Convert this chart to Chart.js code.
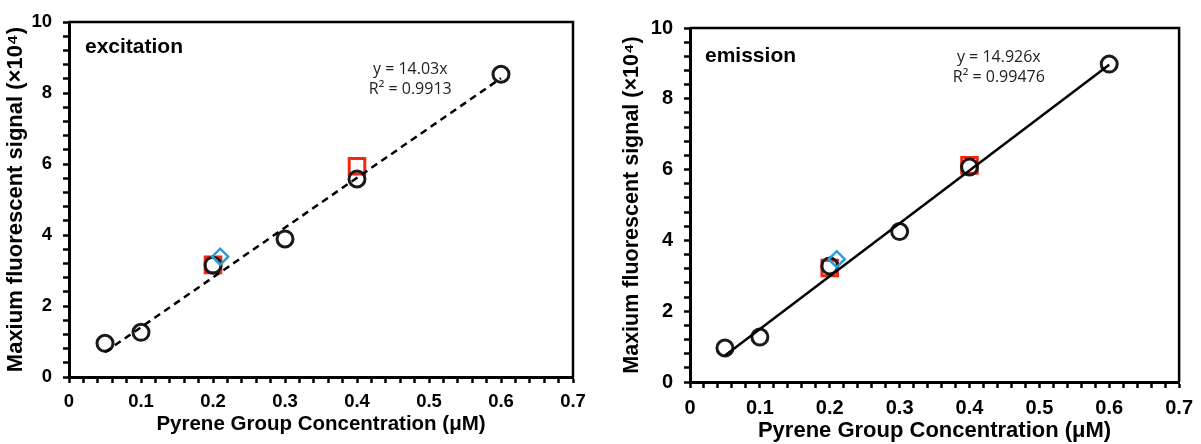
<!DOCTYPE html>
<html>
<head>
<meta charset="utf-8">
<script src="https://cdn.jsdelivr.net/npm/chart.js@4.4.1/dist/chart.umd.min.js"></script>
<style>
  html, body { margin: 0; padding: 0; background: #fff; }
  #wrap { width: 1201px; height: 444px; position: relative; }
  #exc { position: absolute; left: 0; top: 0; }
  #emi { position: absolute; left: 600px; top: 0; }
</style>
</head>
<body>
<div id="wrap">
  <canvas id="exc" width="600" height="444"></canvas>
  <canvas id="emi" width="601" height="444"></canvas>
</div>
<script>
// excitation panel
var excCircleX = [0.05, 0.1, 0.2, 0.3, 0.4, 0.6];
var excCircleY = [0.95, 1.26, 3.15, 3.89, 5.58, 8.53];
var excSquareX = [0.2, 0.4];
var excSquareY = [3.16, 5.94];
var excDiamondX = [0.21];
var excDiamondY = [3.39];
var excFitX = [0.05, 0.6];
var excFitY = [0.70, 8.42];
var excEq = ["y = 14.03x", "R² = 0.9913"];

// emission panel
var emiCircleX = [0.05, 0.1, 0.2, 0.3, 0.4, 0.6];
var emiCircleY = [0.96, 1.27, 3.28, 4.25, 6.07, 8.98];
var emiSquareX = [0.2, 0.4];
var emiSquareY = [3.22, 6.12];
var emiDiamondX = [0.21];
var emiDiamondY = [3.47];
var emiFitX = [0.05, 0.6];
var emiFitY = [0.75, 8.96];
var emiEq = ["y = 14.926x", "R² = 0.99476"];

var xTitle = "Pyrene Group Concentration (μM)";
var yTitle = "Maxium fluorescent signal (×10⁴)";

function pts(xs, ys) {
  var out = [];
  for (var i = 0; i < xs.length; i++) out.push({x: xs[i], y: ys[i]});
  return out;
}

function isMult(v, step) {
  var r = v / step;
  return Math.abs(r - Math.round(r)) < 1e-6;
}

// frame on top/right + panel texts
var framePlugin = {
  id: "frame",
  afterDatasetsDraw: function(chart, args, opts) {
    var ctx = chart.ctx, a = chart.chartArea;
    ctx.save();
    ctx.strokeStyle = "#000";
    ctx.lineWidth = 2.5;
    ctx.beginPath();
    ctx.moveTo(a.left, a.top);
    ctx.lineTo(a.right, a.top);
    ctx.lineTo(a.right, a.bottom);
    ctx.stroke();

    ctx.fillStyle = "#000";
    ctx.font = "bold " + opts.labelSize + "px 'Liberation Sans', Arial, sans-serif";
    ctx.textAlign = "left";
    ctx.textBaseline = "alphabetic";
    ctx.fillText(opts.label, a.left + opts.labelDx, a.top + opts.labelDy);

    ctx.fillStyle = "#222";
    ctx.font = "16px 'Open Sans', sans-serif";
    ctx.textAlign = "center";
    ctx.textBaseline = "middle";
    var xs = chart.scales.x, ys = chart.scales.y;
    ctx.fillText(opts.eq[0], xs.getPixelForValue(opts.eqX), ys.getPixelForValue(opts.eqY));
    ctx.fillText(opts.eq[1], xs.getPixelForValue(opts.eqX), ys.getPixelForValue(opts.eqY) + 20);
    ctx.restore();
  }
};

function drawPanel(eleId, d) {
  var ctx = document.getElementById(eleId).getContext("2d");
  var configs = {
    type: "scatter",
    data: {
      datasets: [
        {
          type: "line",
          data: pts(d.fitX, d.fitY),
          borderColor: "#000",
          borderWidth: 2.5,
          borderDash: d.dash,
          pointRadius: 0,
          fill: false
        },
        {
          data: pts(d.diaX, d.diaY),
          pointStyle: "rectRot",
          pointRadius: 8,
          borderColor: "#2f9ad6",
          borderWidth: 2.5,
          backgroundColor: "rgba(0,0,0,0)"
        },
        {
          data: pts(d.cirX, d.cirY),
          pointStyle: "circle",
          pointRadius: 8,
          borderColor: "#1a1a1a",
          borderWidth: 3,
          backgroundColor: "rgba(0,0,0,0)"
        },
        {
          data: pts(d.sqX, d.sqY),
          pointStyle: "rect",
          pointRadius: 11,
          borderColor: "#f0280f",
          borderWidth: 3,
          backgroundColor: "rgba(0,0,0,0)"
        }
      ]
    },
    options: {
      responsive: false,
      animation: false,
      layout: { padding: { left: 0, right: d.padR, top: d.padT, bottom: 0 } },
      plugins: {
        legend: { display: false },
        tooltip: { enabled: false },
        frame: d.frame
      },
      scales: {
        x: {
          type: "linear",
          min: 0, max: 0.7,
          afterFit: function(s) { s.height = d.xH; },
          border: { display: true, color: "#000", width: 3 },
          grid: { drawOnChartArea: false, drawTicks: true, tickLength: 6, tickColor: "#000", tickWidth: 2.5 },
          ticks: {
            stepSize: 0.02, autoSkip: false, maxRotation: 0, color: "#000", padding: 8,
            font: { family: "'Liberation Sans', Arial, sans-serif", size: d.tickSize, weight: "bold" },
            callback: function(v) { return isMult(v, 0.1) ? (v === 0 ? "0" : v.toFixed(1)) : ""; }
          },
          title: {
            display: true, text: xTitle, color: "#000",
            font: { family: "'Liberation Sans', Arial, sans-serif", size: d.xTitleSize, weight: "bold" },
            padding: { top: 0, bottom: d.xTitlePad }
          }
        },
        y: {
          type: "linear",
          min: 0, max: 10,
          afterFit: function(s) { s.width = d.yW; },
          border: { display: true, color: "#000", width: 3 },
          grid: { drawOnChartArea: false, drawTicks: true, tickLength: 6, tickColor: "#000", tickWidth: 2.5 },
          ticks: {
            stepSize: 0.4, autoSkip: false, color: "#000", padding: 11,
            font: { family: "'Liberation Sans', Arial, sans-serif", size: d.tickSize, weight: "bold" },
            callback: function(v) { return isMult(v, 2) ? String(Math.round(v)) : ""; }
          },
          title: {
            display: true, text: yTitle, color: "#000",
            font: { family: "'Liberation Sans', Arial, sans-serif", size: d.yTitleSize, weight: "bold" },
            padding: { top: d.yTitlePad, bottom: 0 }
          }
        }
      }
    },
    plugins: [framePlugin]
  };
  return new Chart(ctx, configs);
}

drawPanel("exc", {
  fitX: excFitX, fitY: excFitY, dash: [7, 5],
  cirX: excCircleX, cirY: excCircleY,
  sqX: excSquareX, sqY: excSquareY,
  diaX: excDiamondX, diaY: excDiamondY,
  padR: 27, padT: 20, xH: 67, yW: 69,
  tickSize: 18.5, xTitleSize: 20.5, yTitleSize: 22, xTitlePad: 7, yTitlePad: 3,
  frame: { label: "excitation", labelSize: 21, labelDx: 16, labelDy: 31, eq: excEq, eqX: 0.474, eqY: 8.66 }
});

drawPanel("emi", {
  fitX: emiFitX, fitY: emiFitY, dash: [],
  cirX: emiCircleX, cirY: emiCircleY,
  sqX: emiSquareX, sqY: emiSquareY,
  diaX: emiDiamondX, diaY: emiDiamondY,
  padR: 13, padT: 28, xH: 62, yW: 90,
  tickSize: 20, xTitleSize: 22, yTitleSize: 21.5, xTitlePad: 0, yTitlePad: 19,
  frame: { label: "emission", labelSize: 21, labelDx: 15, labelDy: 34, eq: emiEq, eqX: 0.442, eqY: 9.18 }
});
</script>
</body>
</html>
